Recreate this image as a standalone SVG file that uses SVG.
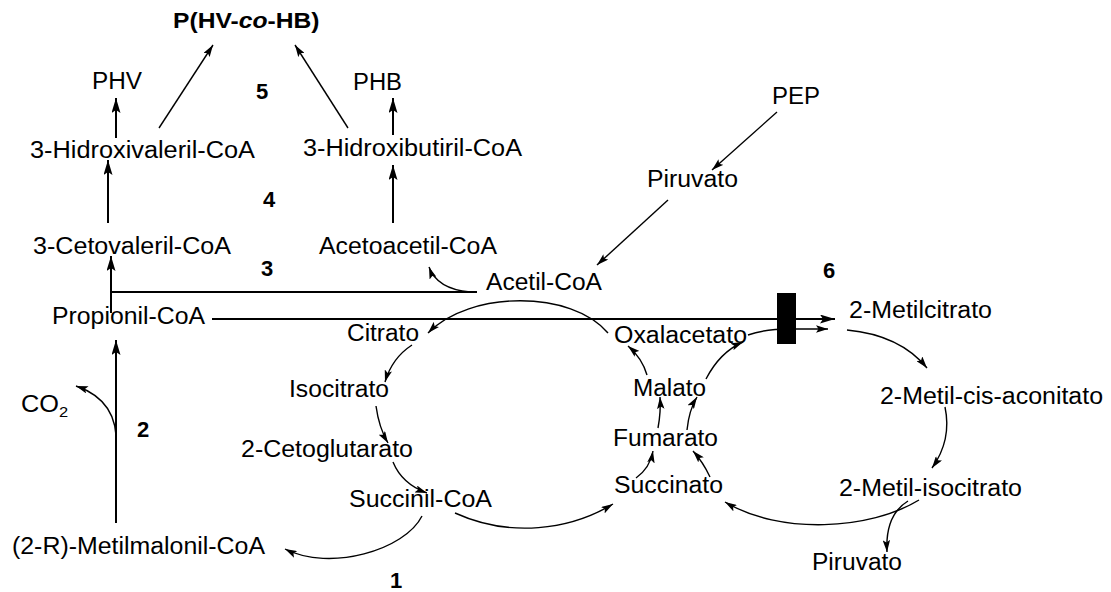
<svg xmlns="http://www.w3.org/2000/svg" width="1111" height="592" viewBox="0 0 1111 592">
  <defs>
    <style>
      .t { font-family: "Liberation Sans", Arial, sans-serif; font-size: 23px; fill: #000; }
      .n { font-family: "Liberation Sans", Arial, sans-serif; font-size: 22px; font-weight: bold; fill: #000; }
      .thick { fill: none; stroke: #000; stroke-width: 2; marker-end: url(#headL); }
      .thin { fill: none; stroke: #000; stroke-width: 1.4; marker-end: url(#headS); }
      .bar { fill: none; stroke: #000; stroke-width: 2; }
    </style>
    <marker id="headL" markerUnits="userSpaceOnUse" viewBox="0 0 15 9" refX="15" refY="4.5" markerWidth="15" markerHeight="9" orient="auto">
      <path d="M0,0 L15,4.5 L0,9 L3,4.5 z" fill="#000"/>
    </marker>
    <marker id="headS" markerUnits="userSpaceOnUse" viewBox="0 0 12 7.5" refX="12" refY="3.75" markerWidth="12" markerHeight="7.5" orient="auto">
      <path d="M0,0 L12,3.75 L0,7.5 L2.5,3.75 z" fill="#000"/>
    </marker>
  </defs>
  <rect width="1111" height="592" fill="#fff"/>

  <!-- connectors -->
  <g id="connectors">
    <!-- PHA branch -->
    <path class="thick" d="M116,138 L116,98"/>
    <path class="thick" d="M393,135 L393,98"/>
    <path class="thick" d="M108,223 L108,160"/>
    <path class="thick" d="M393,223 L393,165"/>
    <path class="thin" d="M159,128 L213,45"/>
    <path class="thin" d="M348,128 L295,45"/>
    <!-- step 3: condensation with acetyl-CoA -->
    <path class="bar" d="M111,292 L477,292"/>
    <path class="thick" d="M111,313 L111,256"/>
    <path class="thin" d="M470,292 Q437,289 429,267"/>
    <!-- step 2: decarboxylation -->
    <path class="thick" d="M116,523 L116,340"/>
    <path class="thin" d="M116,447 C118,420 108,397 76,386"/>
    <!-- PEP to acetyl-CoA -->
    <path class="thin" d="M777,112 L712,170"/>
    <path class="thin" d="M668,200 L597,265"/>
    <!-- propionyl-CoA into the methylcitrate cycle -->
    <path class="thick" d="M212,319 L835,319"/>
    <path class="thin" d="M748,335 Q765,329 790,329 L828,329"/>
    <!-- TCA cycle -->
    <path class="thin" d="M608,333 C572,290 470,290 428,333"/>
    <path class="thin" d="M412,345 Q392,358 385,382"/>
    <path class="thin" d="M376,406 Q379,428 388,443"/>
    <path class="thin" d="M393,462 Q402,484 427,493"/>
    <path class="thin" d="M422,516 C405,550 330,572 285,549"/>
    <path class="thin" d="M455,513 C510,538 570,530 613,504"/>
    <path class="thin" d="M636,478 Q650,468 653,451"/>
    <path class="thin" d="M658,428 Q661,412 660,397"/>
    <path class="thin" d="M647,375 Q642,358 628,346"/>
    <!-- methylcitrate cycle -->
    <path class="thin" d="M847,330 Q900,335 927,368"/>
    <path class="thin" d="M945,407 Q952,440 932,468"/>
    <path class="thin" d="M919,500 C870,530 780,535 725,502"/>
    <path class="thin" d="M908,501 Q885,515 887,552"/>
    <path class="thin" d="M710,477 Q703,462 693,451"/>
    <path class="thin" d="M687,430 Q689,410 697,397"/>
    <path class="thin" d="M706,379 Q720,352 743,342"/>
    <!-- block at step 6 -->
    <rect x="777" y="293" width="19" height="51" fill="#000"/>
  </g>

  <!-- nodes -->
  <g id="node-phvhb">
    <text class="n" transform="translate(173,28) scale(1.12,1)" font-size="22.5">P(HV-<tspan font-style="italic">co</tspan>-HB)</text>
  </g>
  <g id="node-phv"><text class="t" x="92" y="89" textLength="50" lengthAdjust="spacingAndGlyphs">PHV</text></g>
  <g id="node-phb"><text class="t" x="353" y="90" textLength="49" lengthAdjust="spacingAndGlyphs">PHB</text></g>
  <g id="node-hv"><text class="t" x="30" y="158" textLength="225" lengthAdjust="spacingAndGlyphs">3-Hidroxivaleril-CoA</text></g>
  <g id="node-hb"><text class="t" x="303" y="156" textLength="219" lengthAdjust="spacingAndGlyphs">3-Hidroxibutiril-CoA</text></g>
  <g id="node-cetoval"><text class="t" x="33" y="254" textLength="198" lengthAdjust="spacingAndGlyphs">3-Cetovaleril-CoA</text></g>
  <g id="node-acetoacetil"><text class="t" x="319" y="254" textLength="178" lengthAdjust="spacingAndGlyphs">Acetoacetil-CoA</text></g>
  <g id="node-acetil"><text class="t" x="486" y="290" textLength="116" lengthAdjust="spacingAndGlyphs">Acetil-CoA</text></g>
  <g id="node-propionil"><text class="t" x="52" y="324" textLength="153" lengthAdjust="spacingAndGlyphs">Propionil-CoA</text></g>
  <g id="node-pep"><text class="t" x="772" y="104" textLength="48" lengthAdjust="spacingAndGlyphs">PEP</text></g>
  <g id="node-piruvato1"><text class="t" x="647" y="187" textLength="91" lengthAdjust="spacingAndGlyphs">Piruvato</text></g>
  <g id="node-metilcitrato"><text class="t" x="849" y="318" textLength="143" lengthAdjust="spacingAndGlyphs">2-Metilcitrato</text></g>
  <g id="node-citrato"><text class="t" x="347" y="341" textLength="72" lengthAdjust="spacingAndGlyphs">Citrato</text></g>
  <g id="node-oxalacetato"><text class="t" x="614" y="343" textLength="133" lengthAdjust="spacingAndGlyphs">Oxalacetato</text></g>
  <g id="node-malato"><text class="t" x="633" y="396" textLength="73" lengthAdjust="spacingAndGlyphs">Malato</text></g>
  <g id="node-isocitrato"><text class="t" x="289" y="397" textLength="100" lengthAdjust="spacingAndGlyphs">Isocitrato</text></g>
  <g id="node-aconitato"><text class="t" x="880" y="404" textLength="223" lengthAdjust="spacingAndGlyphs">2-Metil-cis-aconitato</text></g>
  <g id="node-co2">
    <text class="t" transform="translate(21,412) scale(1.1,1)">CO<tspan font-size="15" dy="5">2</tspan></text>
  </g>
  <g id="node-fumarato"><text class="t" x="613" y="446" textLength="105" lengthAdjust="spacingAndGlyphs">Fumarato</text></g>
  <g id="node-cetoglutarato"><text class="t" x="241" y="457" textLength="172" lengthAdjust="spacingAndGlyphs">2-Cetoglutarato</text></g>
  <g id="node-succinato"><text class="t" x="614" y="493" textLength="109" lengthAdjust="spacingAndGlyphs">Succinato</text></g>
  <g id="node-isocitrato2"><text class="t" x="839" y="496" textLength="183" lengthAdjust="spacingAndGlyphs">2-Metil-isocitrato</text></g>
  <g id="node-succinil"><text class="t" x="349" y="507" textLength="143" lengthAdjust="spacingAndGlyphs">Succinil-CoA</text></g>
  <g id="node-metilmalonil"><text class="t" x="12" y="554" textLength="253" lengthAdjust="spacingAndGlyphs">(2-R)-Metilmalonil-CoA</text></g>
  <g id="node-piruvato2"><text class="t" x="812" y="570" textLength="90" lengthAdjust="spacingAndGlyphs">Piruvato</text></g>

  <!-- step numbers -->
  <g id="labels">
    <text class="n" x="256" y="99">5</text>
    <text class="n" x="263" y="207">4</text>
    <text class="n" x="261" y="276">3</text>
    <text class="n" x="137" y="437">2</text>
    <text class="n" x="390" y="588">1</text>
    <text class="n" x="823" y="278">6</text>
  </g>
</svg>
